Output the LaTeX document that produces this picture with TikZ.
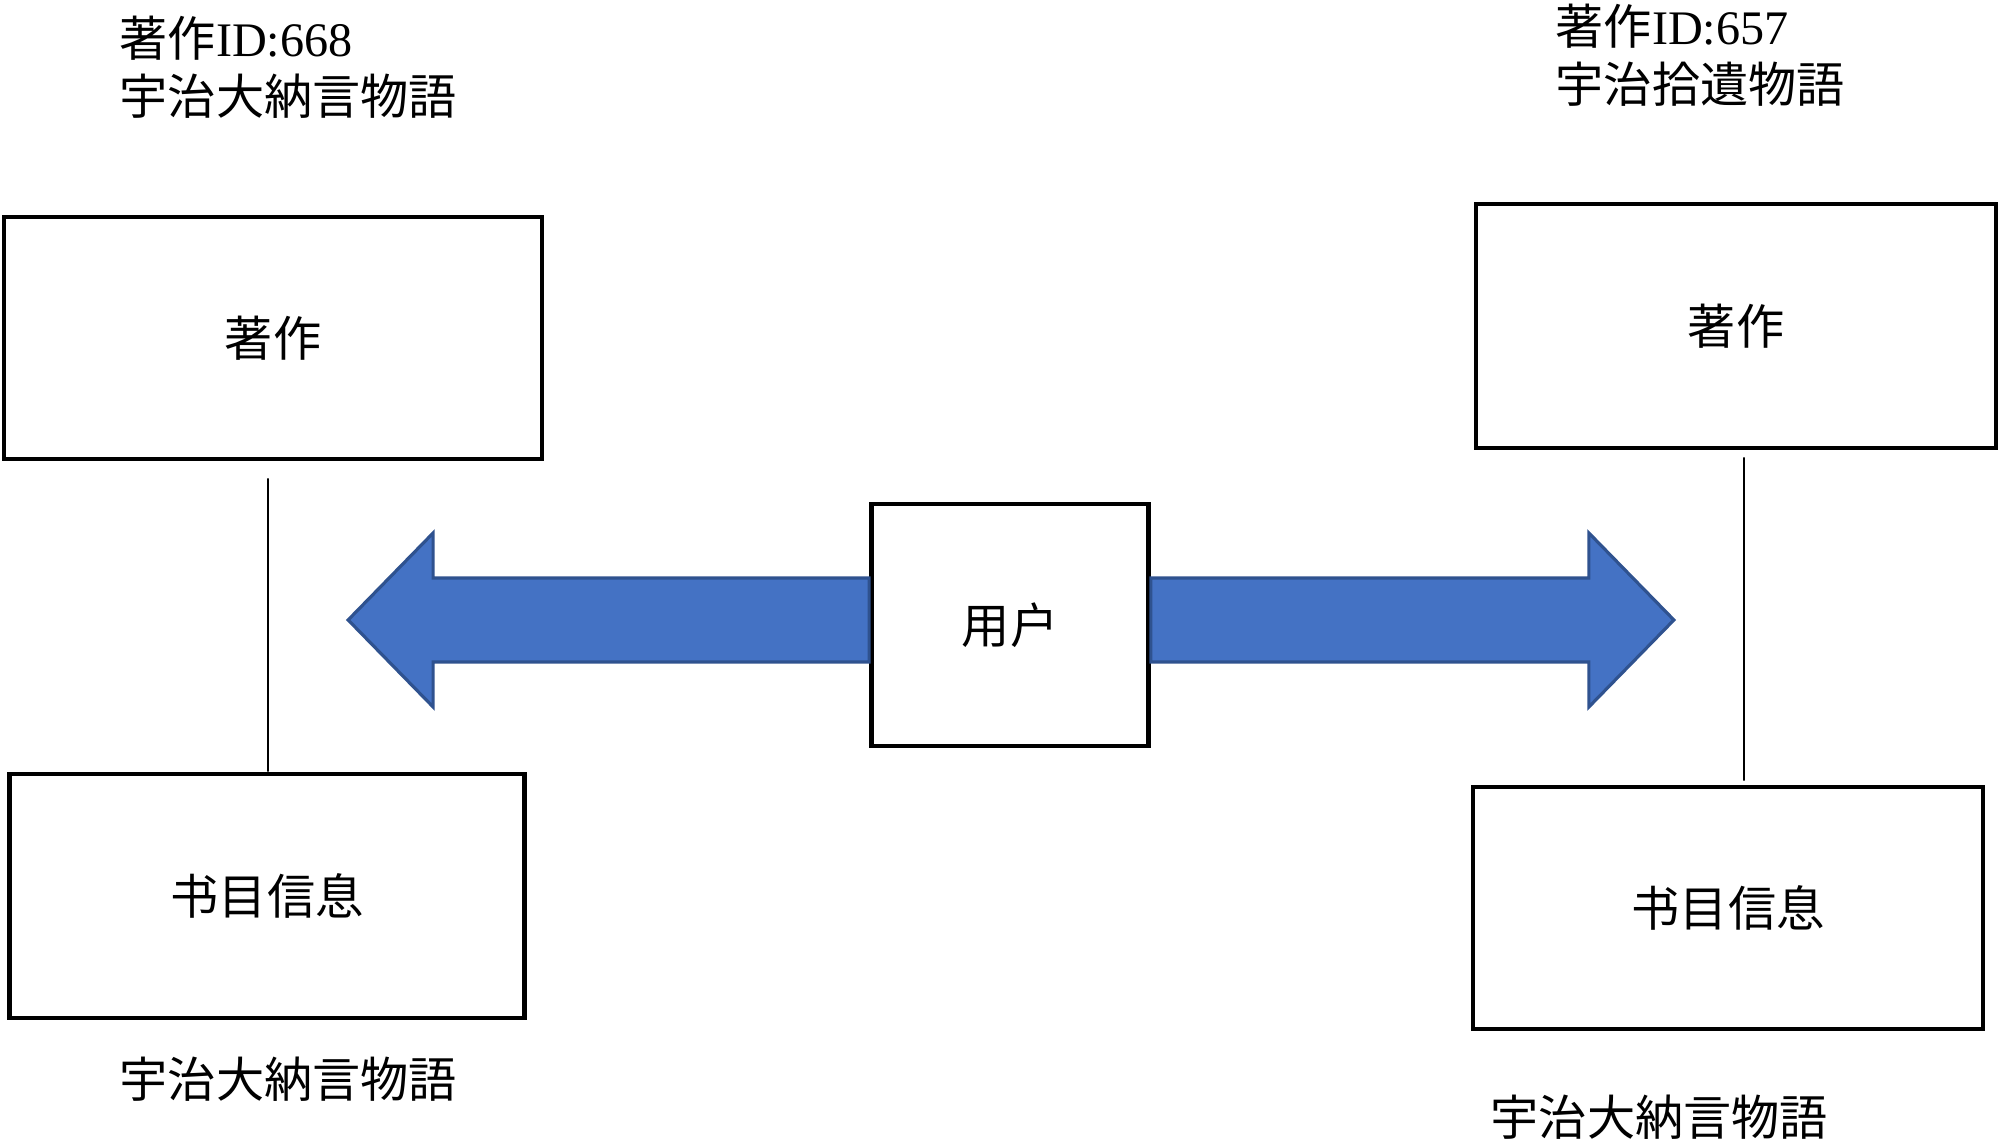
\documentclass[tikz,border=0pt]{standalone}
\usepackage{fontspec}
\setmainfont{Liberation Serif}
\newfontfamily\jp{Noto Sans CJK JP}
\usepackage{xcolor}
\usetikzlibrary{positioning, calc}
\definecolor{arrowblue}{HTML}{4472C4}
\definecolor{arrowedge}{HTML}{2F528F}
\tikzset{
    workbox/.style={rectangle, draw=black, line width=1.3pt, fill=white, align=center, font=\jp\fontsize{13.7}{16.5}\selectfont, inner sep=0pt},
    label/.style={anchor=west, align=left, inner sep=0pt, font=\fontsize{13.7}{16.5}\selectfont},
    blockarrow/.style={fill=arrowblue, draw=arrowedge, line width=0.9pt, line join=miter},
    link/.style={draw=black, line width=0.5pt}
}
\begin{document}
\begin{tikzpicture}[x=0.01cm, y=-0.01cm]
  \useasboundingbox (0,0) rectangle (2000,1140);
  \node[workbox, minimum width=5.38cm, minimum height=2.42cm] (lwork) at (273,338) {著作};
  \node[workbox, minimum width=5.15cm, minimum height=2.44cm] (lbib) at (267,896) {书目信息};
  \node[workbox, minimum width=5.20cm, minimum height=2.44cm] (rwork) at (1736,326) {著作};
  \node[workbox, minimum width=5.10cm, minimum height=2.42cm] (rbib) at (1728,908) {书目信息};
  \node[workbox, minimum width=2.77cm, minimum height=2.42cm] (user) at (1010,625) {用户};
  \node[label] (ltitle) at (119,67) {{\jp 著作}ID:668\\{\jp 宇治大納言物語}};
  \node[label] (rtitle) at (1555,55) {{\jp 著作}ID:657\\{\jp 宇治拾遺物語}};
  \node[label] (lnote) at (119,1079) {\jp 宇治大納言物語};
  \node[label] (rnote) at (1490,1117) {\jp 宇治大納言物語};
  % block arrows out of the user box
  \draw[blockarrow] ([yshift=0.47cm]user.west) -- ++(-436,0) -- ++(0,-45) -- ++(-85,87) -- ++(85,87) -- ++(0,-45) -- ++(436,0) -- cycle;
  \draw[blockarrow] ([yshift=0.47cm]user.east) -- ++(438,0) -- ++(0,-45) -- ++(85,87) -- ++(-85,87) -- ++(0,-45) -- ++(-438,0) -- cycle;
  \draw[link] ([xshift=-0.05cm,yshift=-0.17cm]lwork.south) -- ([xshift=0.01cm]lbib.north);
  \draw[link] ([xshift=0.08cm,yshift=-0.07cm]rwork.south) -- ([xshift=0.16cm,yshift=0.04cm]rbib.north);
\end{tikzpicture}
\end{document}
